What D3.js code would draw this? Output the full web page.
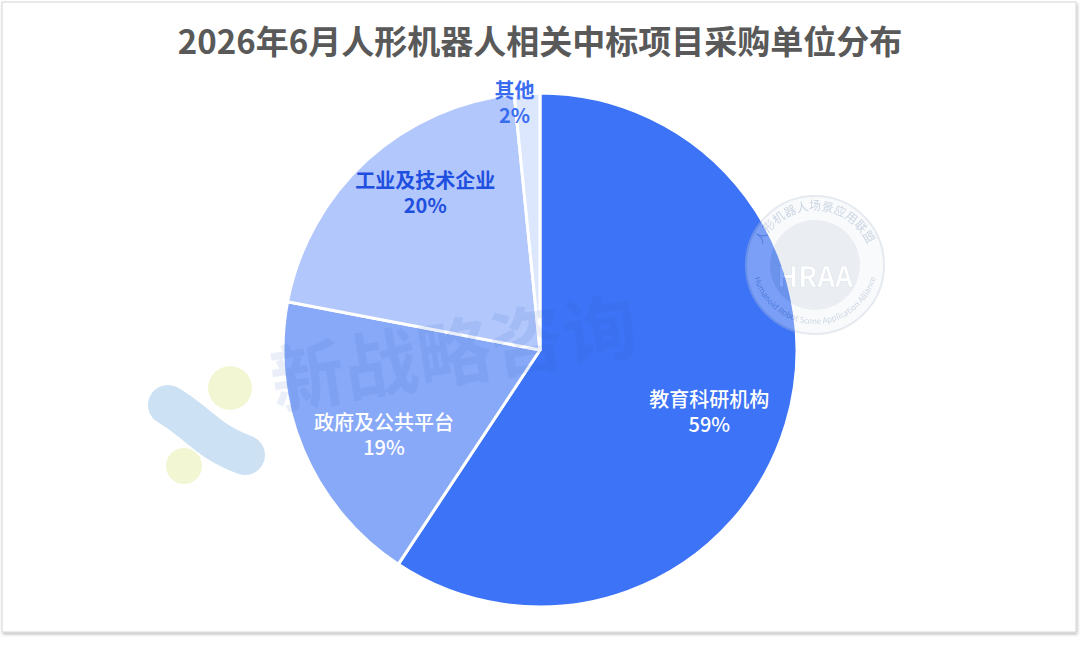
<html>
<head>
<meta charset="utf-8">
<script src="https://d3js.org/d3.v7.min.js"></script>
<style>
body { margin: 0; background: #fff; font-family: "Noto Sans CJK SC", "Noto Sans", sans-serif; }
</style>
</head>
<body>
<svg width="1080" height="650"></svg>
<script>
// data
var categories = ["教育科研机构", "政府及公共平台", "工业及技术企业", "其他"];
var shares = [59.3, 18.7, 20.4, 1.6];
var pctLabels = ["59%", "19%", "20%", "2%"];
var sliceColors = ["#3d73f6", "#88a9f8", "#b2c7fb", "#dce6fd"];
var labelColors = ["#ffffff", "#ffffff", "#1f4fe0", "#3a6cf0"];

var title = "2026年6月人形机器人相关中标项目采购单位分布";

var svg = d3.select("svg");

// frame with soft shadow
var defs = svg.append("defs");
var f = defs.append("filter").attr("id", "shadow").attr("x", "-5%").attr("y", "-5%").attr("width", "110%").attr("height", "110%");
f.append("feDropShadow").attr("dx", 1).attr("dy", 2).attr("stdDeviation", 1.5).attr("flood-color", "#000").attr("flood-opacity", 0.25);

svg.append("rect")
  .attr("x", 2).attr("y", 2).attr("width", 1074).attr("height", 630)
  .attr("fill", "#fff").attr("stroke", "#d6d6d6").attr("stroke-width", 1)
  .attr("filter", "url(#shadow)");

// title
svg.append("text")
  .attr("x", 540).attr("y", 54)
  .attr("text-anchor", "middle")
  .attr("font-size", 33).attr("font-weight", "bold")
  .attr("fill", "#595959")
  .text(title);

// decorative blobs on the left
var deco = svg.append("g").attr("opacity", 0.75);
deco.append("path")
  .attr("d", "M168,405 C195,420 205,440 245,455")
  .attr("fill", "none")
  .attr("stroke", "#bcd7ef").attr("stroke-width", 40).attr("stroke-linecap", "round");
deco.append("circle").attr("cx", 230).attr("cy", 388).attr("r", 22).attr("fill", "#eef3c4");
deco.append("circle").attr("cx", 184).attr("cy", 466).attr("r", 18).attr("fill", "#eef3c4");

// pie
var cx = 540, cy = 350, r = 257;
var pie = d3.pie().sort(null).value(function(d) { return d; });
var arc = d3.arc().innerRadius(0).outerRadius(r);
var arcs = pie(shares);

var g = svg.append("g").attr("transform", "translate(" + cx + "," + cy + ")");
g.selectAll("path")
  .data(arcs)
  .enter()
  .append("path")
  .attr("d", arc)
  .attr("fill", function(d, i) { return sliceColors[i]; })
  .attr("stroke", "#fff")
  .attr("stroke-width", 3)
  .attr("stroke-linejoin", "round");

// label placement: radius fraction and angle nudge (degrees) from slice middle
var labelRadius = [0.70, 0.69, 0.76, 0.97];
var labelNudge = [3, -5.5, 6.5, -3];
var labelPos = arcs.map(function(d, i) {
  var a = (d.startAngle + d.endAngle) / 2 + labelNudge[i] * Math.PI / 180;
  var rr = r * labelRadius[i];
  return [Math.sin(a) * rr, -Math.cos(a) * rr];
});

var labels = g.selectAll("g.lbl")
  .data(arcs)
  .enter()
  .append("g")
  .attr("class", "lbl")
  .attr("transform", function(d, i) { return "translate(" + labelPos[i][0] + "," + labelPos[i][1] + ")"; });

labels.append("text")
  .attr("text-anchor", "middle")
  .attr("y", -4)
  .attr("font-size", 20)
  .attr("font-weight", function(d, i) { return i >= 2 ? "bold" : 500; })
  .attr("fill", function(d, i) { return labelColors[i]; })
  .text(function(d, i) { return categories[i]; });

labels.append("text")
  .attr("text-anchor", "middle")
  .attr("y", 21)
  .attr("font-size", 20)
  .attr("font-weight", function(d, i) { return i >= 2 ? "bold" : 500; })
  .attr("fill", function(d, i) { return labelColors[i]; })
  .text(function(d, i) { return pctLabels[i]; });

// watermark text
svg.append("text")
  .attr("transform", "translate(458,380) rotate(-9)")
  .attr("text-anchor", "middle")
  .attr("font-size", 74).attr("font-weight", "bold")
  .attr("fill", "#2f63c8").attr("opacity", 0.1)
  .text("新战略咨询");

// watermark logo
var logo = svg.append("g").attr("transform", "translate(815,265)").attr("opacity", 0.35);
logo.append("circle").attr("r", 69).attr("fill", "#eef2f6").attr("stroke", "#b8c6d6").attr("stroke-width", 2);
logo.append("circle").attr("r", 45).attr("fill", "#c4cfdc");
logo.append("path").attr("id", "logoTop").attr("d", "M -57,14 A 58,58 0 1,1 57,14").attr("fill", "none");
logo.append("path").attr("id", "logoBot").attr("d", "M -63,-4 A 63,63 0 0,0 63,-4").attr("fill", "none");
logo.append("text").attr("font-size", 12).attr("fill", "#6f8cb0")
  .append("textPath").attr("href", "#logoTop").attr("startOffset", "50%").attr("text-anchor", "middle")
  .text("人形机器人场景应用联盟");
logo.append("text").attr("font-size", 8).attr("fill", "#6f8cb0")
  .append("textPath").attr("href", "#logoBot").attr("startOffset", "50%").attr("text-anchor", "middle")
  .text("Humanoid Robot Scene Application Alliance");
logo.append("text").attr("y", 22).attr("text-anchor", "middle")
  .attr("font-size", 28).attr("font-weight", "bold").attr("fill", "#ffffff").attr("stroke", "#9fb2c8").attr("stroke-width", 0.6)
  .text("HRAA");
</script>
</body>
</html>
